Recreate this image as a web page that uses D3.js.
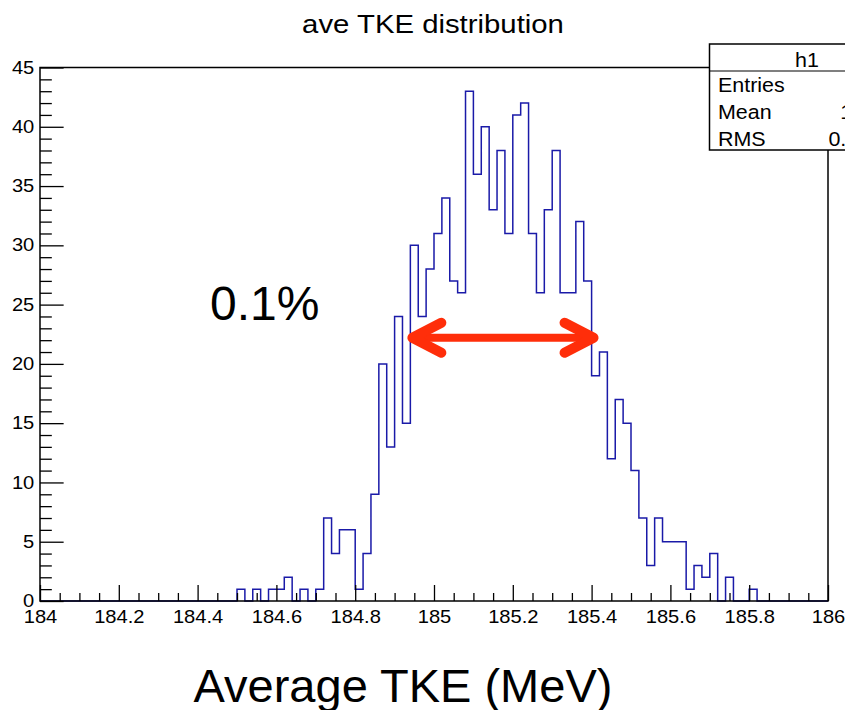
<!DOCTYPE html>
<html>
<head>
<meta charset="utf-8">
<script src="https://cdn.jsdelivr.net/npm/d3@7"></script>
<style>
  html, body { margin: 0; padding: 0; background: #fff; }
  svg { display: block; font-family: "Liberation Sans", Arial, Helvetica, sans-serif; }
</style>
</head>
<body>
<svg id="chart" width="845" height="710"></svg>
<script>
// Histogram h1: 100 bins of width 0.02 MeV from 184 to 186
const binRange = [184, 186];
const binWidth = 0.02;
const counts = [
  0, 0, 0, 0, 0, 0, 0, 0, 0, 0,
  0, 0, 0, 0, 0, 0, 0, 0, 0, 0,
  0, 0, 0, 0, 0, 1, 0, 1, 0, 1,
  1, 2, 0, 1, 0, 1, 7, 4, 6, 6,
  1, 4, 9, 20, 13, 24, 15, 30, 24, 28,
  31, 34, 27, 26, 43, 36, 40, 33, 38, 31,
  41, 42, 31, 26, 33, 38, 26, 26, 32, 27,
  19, 21, 12, 17, 15, 11, 7, 3, 7, 5,
  5, 5, 1, 3, 2, 4, 0, 2, 0, 0,
  1, 0, 0, 0, 0, 0, 0, 0, 0, 0
];
const xMajorTicks = [184, 184.2, 184.4, 184.6, 184.8, 185, 185.2, 185.4, 185.6, 185.8, 186];
const xTickLabels = ["184", "184.2", "184.4", "184.6", "184.8", "185", "185.2", "185.4", "185.6", "185.8", "186"];
const yMajorTicks = [0, 5, 10, 15, 20, 25, 30, 35, 40, 45];
const yDomain = [0, 45];
// FWHM marker: edges in MeV and the count level it is drawn at
const fwhmEdges = [184.94, 185.41];
const fwhmLevel = 22.2;
const fwhmLabel = "0.1%";

const svg = d3.select("#chart");
const frame = { left: 40, right: 828, top: 67.5, bottom: 601 };
const hStretch = 1.15;           // horizontal stretch of the plot-pad lettering

const x = d3.scaleLinear().domain(binRange).range([frame.left, frame.right]);
const y = d3.scaleLinear().domain(yDomain).range([frame.bottom, frame.top]);

// minor ticks
const xMinor = d3.range(0, 41).map(i => binRange[0] + i * 0.05).filter(v => !xMajorTicks.some(t => Math.abs(t - v) < 1e-6));
const yMinor = d3.range(yDomain[0], yDomain[1] + 1).filter(v => v % 5 !== 0);

const xTickLen = 0.03 * (frame.bottom - frame.top);
const yTickLen = 0.03 * (frame.right - frame.left);

// histogram outline
const pts = counts.map((c, i) => [binRange[0] + i * binWidth, c]);
pts.push([binRange[1], counts[counts.length - 1]]);
const line = d3.line().x(d => x(d[0])).y(d => y(d[1])).curve(d3.curveStepAfter);
svg.append("path")
  .attr("d", line(pts))
  .attr("fill", "none")
  .attr("stroke", "#1a1aa8")
  .attr("stroke-width", 1.5);

// frame
svg.append("rect")
  .attr("x", frame.left).attr("y", frame.top)
  .attr("width", frame.right - frame.left).attr("height", frame.bottom - frame.top)
  .attr("fill", "none").attr("stroke", "#000").attr("stroke-width", 1.5);

// x axis
const gx = svg.append("g").attr("transform", `translate(0,${frame.bottom})`)
  .call(d3.axisBottom(x).tickValues(xMajorTicks).tickSize(-xTickLen).tickPadding(10)
    .tickFormat((d, i) => xTickLabels[i]));
gx.select(".domain").remove();
gx.selectAll(".tick line").attr("stroke", "#000").attr("stroke-width", 1.3);
gx.selectAll(".tick text")
  .attr("font-family", "Liberation Sans, Arial, sans-serif")
  .attr("font-size", 17.5).attr("fill", "#000")
  .attr("transform", `scale(${hStretch},1)`);

const gxm = svg.append("g").attr("transform", `translate(0,${frame.bottom})`)
  .call(d3.axisBottom(x).tickValues(xMinor).tickSize(-xTickLen / 2).tickFormat(""));
gxm.select(".domain").remove();
gxm.selectAll(".tick line").attr("stroke", "#000").attr("stroke-width", 1.3);

// y axis
const gy = svg.append("g").attr("transform", `translate(${frame.left},0)`)
  .call(d3.axisLeft(y).tickValues(yMajorTicks).tickSize(-yTickLen).tickPadding(5).tickFormat(d3.format("d")));
gy.select(".domain").remove();
gy.selectAll(".tick line").attr("stroke", "#000").attr("stroke-width", 1.3);
gy.selectAll(".tick text")
  .attr("font-family", "Liberation Sans, Arial, sans-serif")
  .attr("font-size", 17.5).attr("fill", "#000")
  .attr("transform", `scale(${hStretch},1)`);

const gym = svg.append("g").attr("transform", `translate(${frame.left},0)`)
  .call(d3.axisLeft(y).tickValues(yMinor).tickSize(-yTickLen / 2).tickFormat(""));
gym.select(".domain").remove();
gym.selectAll(".tick line").attr("stroke", "#000").attr("stroke-width", 1.3);

// title
svg.append("text")
  .attr("transform", `translate(433,33) scale(${hStretch},1)`)
  .attr("text-anchor", "middle")
  .attr("font-size", 25.5)
  .attr("fill", "#000")
  .text("ave TKE distribution");

// statistics box
const nEntries = d3.sum(counts);
const centers = counts.map((c, i) => binRange[0] + (i + 0.5) * binWidth);
const mean = d3.sum(counts, (c, i) => c * centers[i]) / nEntries;
const rms = Math.sqrt(d3.sum(counts, (c, i) => c * (centers[i] - mean) ** 2) / nEntries);
const stats = [["Entries", String(nEntries)], ["Mean", d3.format(".4~r")(mean)], ["RMS", d3.format(".4r")(rms)]];

const box = svg.append("g");
box.append("rect")
  .attr("x", 709.5).attr("y", 44).attr("width", 195).attr("height", 106)
  .attr("fill", "#fff").attr("stroke", "#000").attr("stroke-width", 1.5);
box.append("line")
  .attr("x1", 709.5).attr("x2", 904.5).attr("y1", 71).attr("y2", 71)
  .attr("stroke", "#000").attr("stroke-width", 1.2);
box.append("text")
  .attr("transform", `translate(807,66.5) scale(1.1,1)`)
  .attr("text-anchor", "middle").attr("font-size", 19.5).text("h1");
stats.forEach((s, i) => {
  const yy = 92.3 + i * 26.7;
  box.append("text")
    .attr("transform", `translate(718,${yy}) scale(1.1,1)`)
    .attr("font-size", 19.5).text(s[0]);
  box.append("text")
    .attr("transform", `translate(894,${yy}) scale(1.1,1)`)
    .attr("text-anchor", "end").attr("font-size", 19.5).text(s[1]);
});

// FWHM double arrow
const red = "#ff2e0a";
const ax0 = x(fwhmEdges[0]), ax1 = x(fwhmEdges[1]), ay = y(fwhmLevel);
const headL = 31, headW = 15;
const arrow = svg.append("g")
  .attr("fill", "none").attr("stroke", red)
  .attr("stroke-linecap", "round").attr("stroke-linejoin", "round");
arrow.append("line")
  .attr("x1", ax0 + 4).attr("x2", ax1 - 4).attr("y1", ay).attr("y2", ay)
  .attr("stroke-width", 8);
arrow.append("path")
  .attr("d", `M${ax0 + headL},${ay - headW} L${ax0 + 2},${ay} L${ax0 + headL},${ay + headW}`)
  .attr("stroke-width", 10);
arrow.append("path")
  .attr("d", `M${ax1 - headL},${ay - headW} L${ax1 - 2},${ay} L${ax1 - headL},${ay + headW}`)
  .attr("stroke-width", 10);

// annotation and axis caption
svg.append("text")
  .attr("x", 210).attr("y", 320)
  .attr("font-size", 48).attr("fill", "#000")
  .text(fwhmLabel);

svg.append("text")
  .attr("x", 403).attr("y", 702)
  .attr("text-anchor", "middle")
  .attr("font-size", 47).attr("fill", "#000")
  .text("Average TKE (MeV)");
</script>
</body>
</html>
